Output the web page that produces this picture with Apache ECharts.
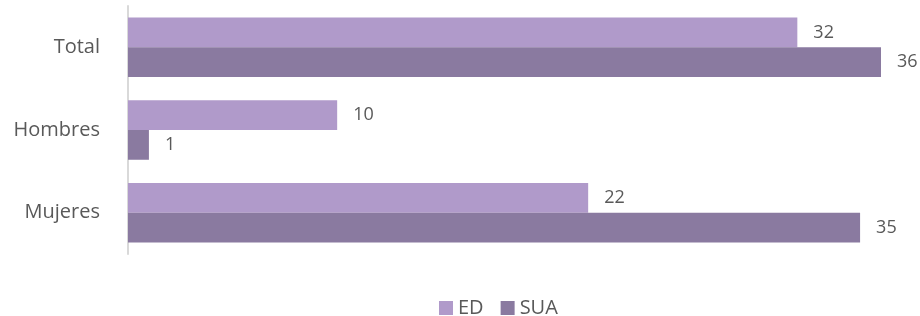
<!DOCTYPE html>
<html>
<head>
<meta charset="utf-8">
<script src="https://cdn.jsdelivr.net/npm/echarts@6/dist/echarts.min.js"></script>
<style>
  html, body { margin: 0; padding: 0; background: #fff; }
  #chart { width: 920px; height: 316px; }
</style>
</head>
<body>
<div id="chart"></div>
<script>
  // categories top to bottom
  var categories = ['Total', 'Hombres', 'Mujeres'];
  var edValues = [32, 10, 22];
  var suaValues = [36, 1, 35];

  var chart = echarts.init(document.getElementById('chart'), null, { renderer: 'canvas' });

  var labelStyle = {
    show: true,
    position: 'right',
    distance: 16,
    color: '#595959',
    fontSize: 18,
    fontFamily: 'Open Sans'
  };

  chart.setOption({
    animation: false,
    textStyle: { fontFamily: 'Open Sans' },
    grid: { left: 128, top: 6, width: 753, height: 248, containLabel: false },
    legend: {
      top: 293,
      left: 434,
      itemWidth: 14,
      itemHeight: 14,
      itemGap: 17,
      icon: 'rect',
      textStyle: { color: '#595959', fontSize: 20, fontFamily: 'Open Sans' },
      data: ['ED', 'SUA']
    },
    xAxis: {
      type: 'value',
      min: 0,
      max: 36,
      show: false
    },
    yAxis: {
      type: 'category',
      data: categories,
      inverse: true,
      axisLine: { show: true, lineStyle: { color: '#d9d9d9', width: 2 } },
      axisTick: { show: false },
      axisLabel: { color: '#595959', fontSize: 20, margin: 28, fontFamily: 'Open Sans' }
    },
    series: [
      {
        name: 'ED',
        type: 'bar',
        data: edValues,
        barGap: '0%',
        barCategoryGap: '28%',
        itemStyle: { color: '#b09aca' },
        label: labelStyle
      },
      {
        name: 'SUA',
        type: 'bar',
        data: suaValues,
        itemStyle: { color: '#8a7aa0' },
        label: labelStyle
      }
    ]
  });
</script>
</body>
</html>
